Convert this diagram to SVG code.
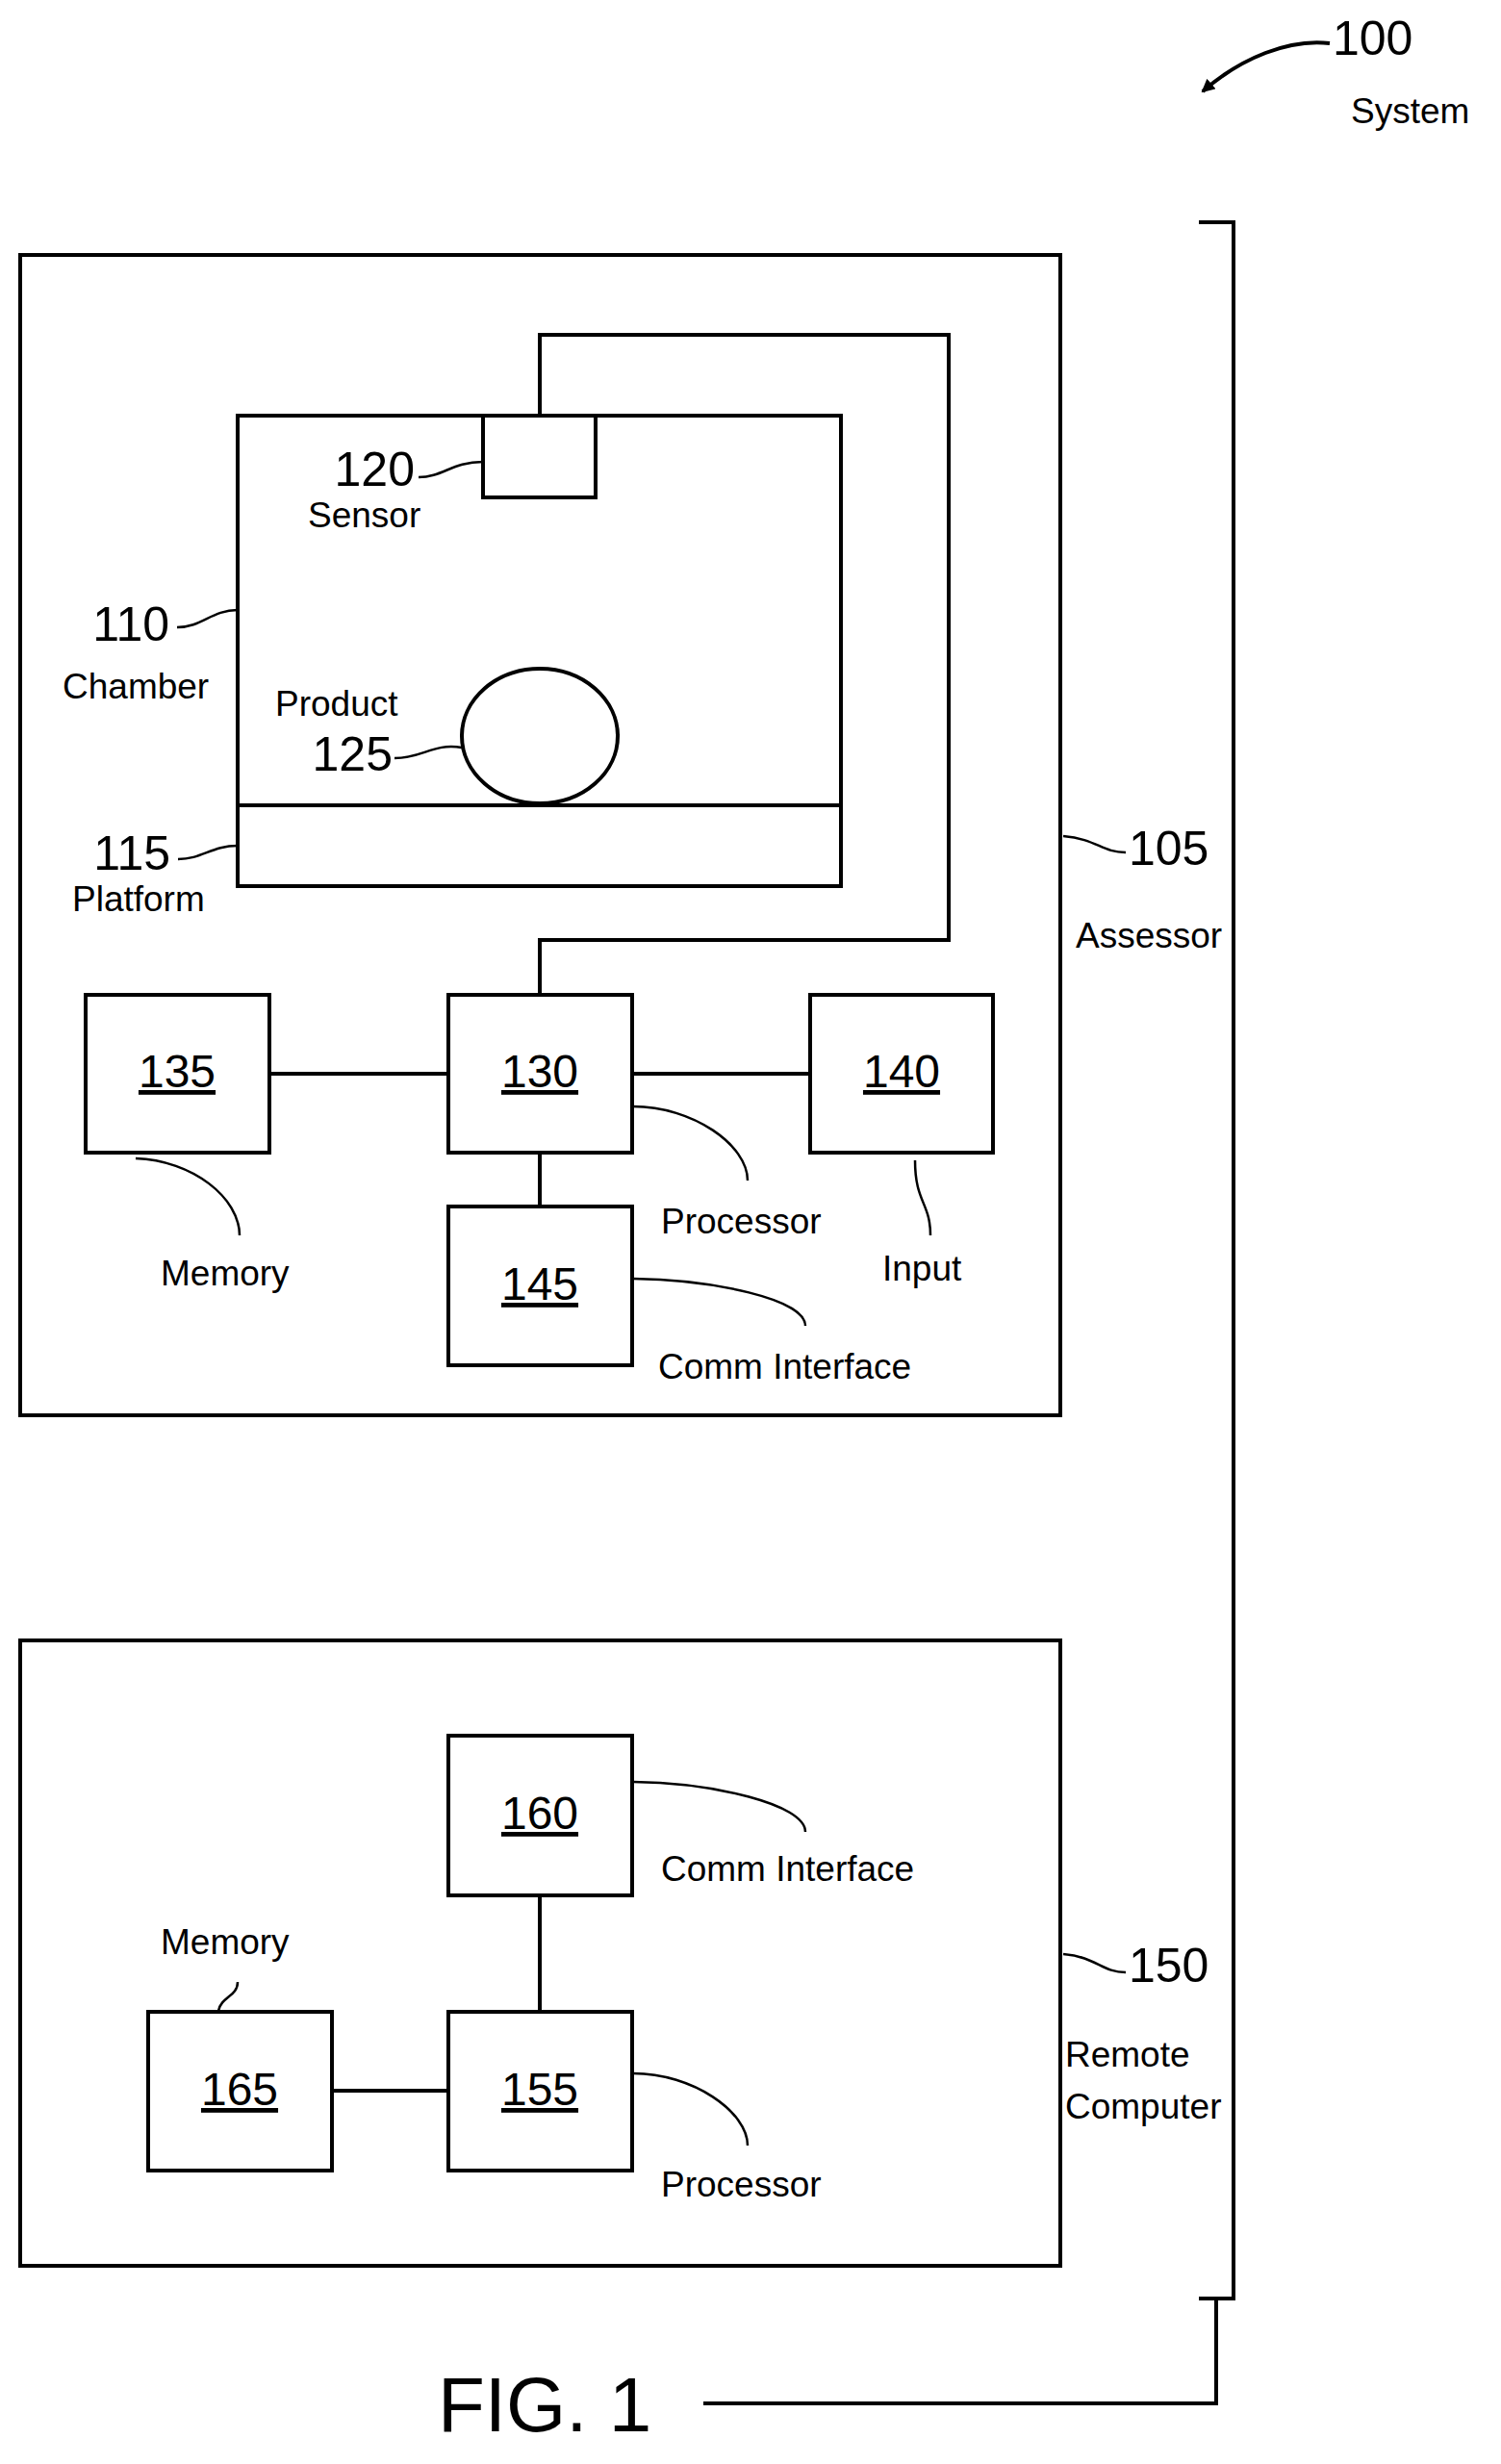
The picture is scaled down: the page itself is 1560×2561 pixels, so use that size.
<svg xmlns="http://www.w3.org/2000/svg" width="1560" height="2561" viewBox="0 0 1560 2561">
<style>
.b{fill:#fff;stroke:#000;stroke-width:4}
.l{fill:none;stroke:#000;stroke-width:4}
.t{fill:none;stroke:#000;stroke-width:2.5}
text{font-family:"Liberation Sans",Arial,sans-serif;fill:#000}
.n{font-size:48px;text-anchor:middle;text-decoration:underline}
.lab{font-size:37px}
.ref{font-family:"Liberation Sans Narrow","Liberation Sans",sans-serif;font-size:50px}
</style>
<defs><marker id="ah" markerWidth="14" markerHeight="14" refX="12" refY="7" orient="auto" markerUnits="userSpaceOnUse" viewBox="0 0 14 14"><path d="M0,0 L14,7 L0,14 Z"/></marker></defs>
<g id="assessor"><rect class="b" x="21" y="265" width="1081" height="1206"/></g>
<g id="remote"><rect class="b" x="21" y="1705" width="1081" height="650"/></g>
<g id="connectors">
<path class="l" d="M561,432 V348 H986 V977 H561 V1034"/>
<line class="l" x1="280" y1="1116" x2="466" y2="1116"/>
<line class="l" x1="657" y1="1116" x2="842" y2="1116"/>
<line class="l" x1="561" y1="1198" x2="561" y2="1254"/>
<line class="l" x1="561" y1="1970" x2="561" y2="2091"/>
<line class="l" x1="345" y1="2173" x2="466" y2="2173"/>
<path class="l" d="M1246,231 H1282 V2389 H1246 M1264,2389 V2498 H731"/>
<path class="l" d="M1382,45 C1340,40 1290,60 1250,95" marker-end="url(#ah)"/>
</g>
<g id="chamber"><rect class="b" x="247" y="432" width="627" height="489"/><line class="l" x1="247" y1="837" x2="874" y2="837"/></g>
<g id="sensor"><rect class="b" x="502" y="432" width="117" height="85"/></g>
<g id="product"><ellipse class="b" cx="561" cy="765" rx="81" ry="70"/></g>
<g id="n135"><rect class="b" x="89" y="1034" width="191" height="164"/><text class="n" x="184" y="1130">135</text></g>
<g id="n130"><rect class="b" x="466" y="1034" width="191" height="164"/><text class="n" x="561" y="1130">130</text></g>
<g id="n140"><rect class="b" x="842" y="1034" width="190" height="164"/><text class="n" x="937" y="1130">140</text></g>
<g id="n145"><rect class="b" x="466" y="1254" width="191" height="165"/><text class="n" x="561" y="1351">145</text></g>
<g id="n160"><rect class="b" x="466" y="1804" width="191" height="166"/><text class="n" x="561" y="1901">160</text></g>
<g id="n165"><rect class="b" x="154" y="2091" width="191" height="165"/><text class="n" x="249" y="2188">165</text></g>
<g id="n155"><rect class="b" x="466" y="2091" width="191" height="165"/><text class="n" x="561" y="2188">155</text></g>
<g id="leaders">
<path class="t" d="M435,496 C460,496 470,480 502,480"/>
<path class="t" d="M184,652 C210,652 220,634 247,634"/>
<path class="t" d="M410,788 C440,788 450,772 480,777"/>
<path class="t" d="M185,893 C210,893 220,879 247,879"/>
<path class="t" d="M1105,869 C1140,872 1145,886 1170,886"/>
<path class="t" d="M1105,2031 C1140,2034 1145,2050 1170,2050"/>
<path class="t" d="M658,1150 C720,1150 777,1190 777,1227"/>
<path class="t" d="M141,1204 C200,1206 249,1245 249,1284"/>
<path class="t" d="M951,1206 C951,1250 967,1250 967,1284"/>
<path class="t" d="M658,1329 C740,1330 837,1350 837,1378"/>
<path class="t" d="M658,1852 C740,1853 837,1875 837,1904"/>
<path class="t" d="M247,2060 C247,2075 230,2075 227,2090"/>
<path class="t" d="M658,2155 C720,2155 777,2195 777,2230"/>
</g>
<g id="labels">
<text class="ref" x="1385" y="57">100</text>
<text class="lab" x="1404" y="128">System</text>
<text class="ref" x="431" y="505" text-anchor="end">120</text>
<text class="lab" x="320" y="548">Sensor</text>
<text class="ref" x="176" y="666" text-anchor="end">110</text>
<text class="lab" x="65" y="726">Chamber</text>
<text class="lab" x="286" y="744">Product</text>
<text class="ref" x="408" y="801" text-anchor="end">125</text>
<text class="ref" x="177" y="904" text-anchor="end">115</text>
<text class="lab" x="75" y="947">Platform</text>
<text class="ref" x="1173" y="899">105</text>
<text class="lab" x="1118" y="985">Assessor</text>
<text class="lab" x="687" y="1282">Processor</text>
<text class="lab" x="167" y="1336">Memory</text>
<text class="lab" x="917" y="1331">Input</text>
<text class="lab" x="684" y="1433">Comm Interface</text>
<text class="lab" x="687" y="1955">Comm Interface</text>
<text class="lab" x="167" y="2031">Memory</text>
<text class="lab" x="687" y="2283">Processor</text>
<text class="ref" x="1173" y="2060">150</text>
<text class="lab" x="1107" y="2148" font-size="34">Remote</text>
<text class="lab" x="1107" y="2202" font-size="34">Computer</text>
<text x="455" y="2527" font-size="80">FIG. 1</text>
</g>
</svg>
